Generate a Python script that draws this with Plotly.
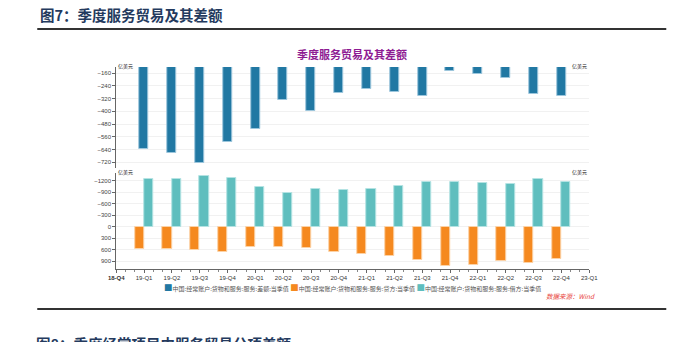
import plotly.graph_objects as go

# Quarterly service trade, China (100 million USD)
quarters = ["19-Q1", "19-Q2", "19-Q3", "19-Q4", "20-Q1", "20-Q2", "20-Q3", "20-Q4",
            "21-Q1", "21-Q2", "21-Q3", "21-Q4", "22-Q1", "22-Q2", "22-Q3", "22-Q4"]
axis_labels = ["18-Q4"] + quarters + ["23-Q1"]

balance = [-635, -660, -724, -591, -513, -326, -396, -284,
           -257, -282, -303, -147, -164, -194, -291, -305]
credit = [591, 591, 600, 652, 523, 532, 567, 663,
          715, 761, 865, 1022, 987, 900, 935, 839]
debit = [-1235, -1252, -1330, -1260, -1043, -869, -974, -957,
         -991, -1060, -1174, -1174, -1151, -1113, -1235, -1156]

series_names = [
    "中国:经常账户:货物和服务:服务:差额:当季值",
    "中国:经常账户:货物和服务:服务:贷方:当季值",
    "中国:经常账户:货物和服务:服务:借方:当季值",
]
colors = ["#2178a3", "#f5891f", "#5fbebe"]
edge_colors = ["#9cc6dc", "#fcd2a6", "#b4e3e3"]

W, H = 686, 342
pos = [axis_labels.index(q) for q in quarters]

fig = go.Figure()
fig.add_trace(go.Bar(x=pos, y=balance, name=series_names[0], width=0.32,
                     marker=dict(color=colors[0], line=dict(color=edge_colors[0], width=1)),
                     xaxis="x", yaxis="y", showlegend=False))
fig.add_trace(go.Bar(x=pos, y=credit, name=series_names[1], width=0.33, offset=-0.33,
                     marker=dict(color=colors[1], line=dict(color=edge_colors[1], width=1)),
                     xaxis="x2", yaxis="y2", showlegend=False))
fig.add_trace(go.Bar(x=pos, y=debit, name=series_names[2], width=0.33, offset=0.0,
                     marker=dict(color=colors[2], line=dict(color=edge_colors[2], width=1)),
                     xaxis="x2", yaxis="y2", showlegend=False))

xdom = [111 / W, 596 / W]
top_dom = [1 - 168 / H, 1 - 67 / H]
bot_dom = [1 - 269 / H, 1 - 173 / H]
tick_font = dict(family="Liberation Sans, Arial", size=6, color="#444")

yax_common = dict(showline=True, linecolor="#666", linewidth=1, ticks="outside",
                  ticklen=3, tickcolor="#666", tickfont=tick_font,
                  showgrid=True, gridcolor="#f1f1f1", gridwidth=1, zeroline=False)

top_range = [-756, -122]
bot_range = [1104, -1401]

tickvals = list(range(len(axis_labels)))
ticktext = ["<b>" + axis_labels[0] + "</b>"] + axis_labels[1:]

fig.update_layout(
    width=W, height=H, margin=dict(l=0, r=0, t=0, b=0),
    paper_bgcolor="white", plot_bgcolor="white",
    barmode="overlay", bargap=0,
    xaxis=dict(domain=xdom, anchor="y", range=[0, len(axis_labels) - 1],
               showticklabels=False, showline=False, showgrid=False,
               zeroline=False, ticks=""),
    yaxis=dict(domain=top_dom, anchor="x", range=top_range,
               tick0=-160, dtick=80, **yax_common),
    yaxis3=dict(overlaying="y", side="right", anchor="x", range=top_range,
                tick0=-160, dtick=80, **{**yax_common, "showgrid": False}),
    xaxis2=dict(domain=xdom, anchor="y2", range=[0, len(axis_labels) - 1],
                tickmode="array", tickvals=tickvals, ticktext=ticktext,
                showline=True, linecolor="#666", linewidth=1,
                ticks="outside", ticklen=3, tickcolor="#666",
                minor=dict(ticks="outside", ticklen=2, dtick=1 / 3, tickcolor="#888"),
                tickfont=dict(family="Liberation Sans, Arial", size=6, color="#333"),
                showgrid=False, zeroline=False),
    yaxis2=dict(domain=bot_dom, anchor="x2", range=bot_range,
                tick0=0, dtick=300, **yax_common),
    yaxis4=dict(overlaying="y2", side="right", anchor="x2", range=bot_range,
                tick0=0, dtick=300, **{**yax_common, "showgrid": False}),
)

ann = []
# figure heading
ann.append(dict(text="<b>图7：季度服务贸易及其差额</b>", x=31 / W, y=1 - 2 / H, xref="paper", yref="paper",
                xanchor="left", yanchor="top", showarrow=False,
                font=dict(family="Noto Sans CJK SC", size=14.5, color="#243a5e")))
# next heading, running off the page
ann.append(dict(text="<b>图8：季度经常项目中服务贸易分项差额</b>", x=27 / W, y=1 - 331 / H, xref="paper", yref="paper",
                xanchor="left", yanchor="top", showarrow=False,
                font=dict(family="Noto Sans CJK SC", size=14.5, color="#243a5e")))
# chart title
ann.append(dict(text="<b>季度服务贸易及其差额</b>", x=353 / W, y=1 - 54 / H, xref="paper", yref="paper",
                xanchor="center", yanchor="middle", showarrow=False,
                font=dict(family="Noto Sans CJK SC", size=11, color="#8e1b93")))
# unit labels
for yy in (66, 172):
    ann.append(dict(text="亿美元", x=111 / W, y=1 - yy / H, xref="paper", yref="paper",
                    xanchor="left", yanchor="middle", showarrow=False,
                    font=dict(family="Noto Sans CJK SC", size=5, color="#222")))
    ann.append(dict(text="亿美元", x=596 / W, y=1 - yy / H, xref="paper", yref="paper",
                    xanchor="right", yanchor="middle", showarrow=False,
                    font=dict(family="Noto Sans CJK SC", size=5, color="#222")))
# legend
legend_parts = []
for name, c in zip(series_names, colors):
    legend_parts.append(f"<span style='color:{c};font-size:8.5px'>■</span>{name}")
ann.append(dict(text=" ".join(legend_parts), x=353 / W, y=1 - 287 / H, xref="paper", yref="paper",
                xanchor="center", yanchor="middle", showarrow=False,
                font=dict(family="Noto Sans CJK SC", size=6, color="#555")))
# source note
ann.append(dict(text="<i>数据来源：Wind</i>", x=604 / W, y=1 - 296 / H, xref="paper", yref="paper",
                xanchor="right", yanchor="middle", showarrow=False,
                font=dict(family="Noto Sans CJK SC", size=6.5, color="#e8453c")))
fig.update_layout(annotations=ann)

fig.update_layout(shapes=[
    dict(type="line", xref="paper", yref="paper", x0=30 / W, x1=675 / W,
         y0=1 - 29 / H, y1=1 - 29 / H, line=dict(color="#333", width=2)),
    dict(type="line", xref="paper", yref="paper", x0=30 / W, x1=675 / W,
         y0=1 - 309 / H, y1=1 - 309 / H, line=dict(color="#333", width=2)),
])

fig.write_html("out.html")
